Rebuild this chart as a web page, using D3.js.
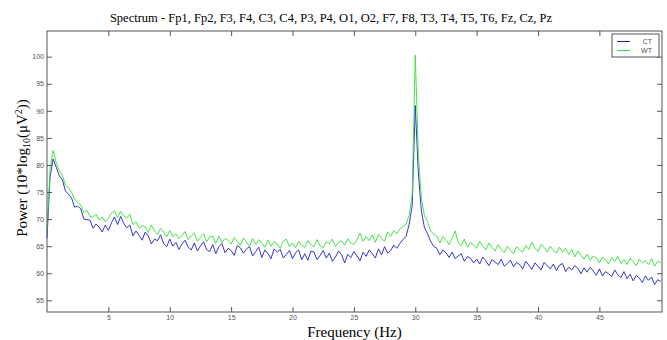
<!DOCTYPE html>
<html>
<head>
<meta charset="utf-8">
<script src="https://cdn.jsdelivr.net/npm/d3@7"></script>
<style>
  body { margin: 0; background: #fff; }
  svg { display: block; }
</style>
</head>
<body>
<div id="chart"></div>
<script>
// frequency grid of the spectrum (Hz)
const freqs = d3.range(0, 50.001, 0.25);

// CT power (dB), one row per Hz: f, f+.25, f+.5, f+.75
const ctPower = [
  66.5, 77.8, 81.1, 79.6,
  78.0, 77.3, 75.2, 74.6,
  73.9, 72.2, 72.4, 71.9,
  70.0, 69.9, 69.8, 68.3,
  69.1, 68.5, 67.6, 68.9,
  67.9, 69.3, 70.4, 69.0,
  70.5, 69.2, 68.4, 68.9,
  66.9, 67.8, 67.0, 66.1,
  67.6, 66.9, 65.4, 66.3,
  66.0, 67.1, 65.5, 64.9,
  66.3, 65.0, 65.7, 64.4,
  65.4, 66.1, 64.8, 64.3,
  65.6, 64.1, 65.0, 65.8,
  64.4, 64.0, 65.3, 63.6,
  64.9, 65.5, 63.8, 64.6,
  64.2, 63.3, 65.1, 64.7,
  63.7, 64.5, 64.9, 63.2,
  64.0, 64.8, 62.9, 64.3,
  63.6, 62.7, 64.5, 63.9,
  64.4, 62.8, 63.5, 64.2,
  62.7, 63.8, 64.3, 62.5,
  63.6, 62.4, 64.1, 63.9,
  62.5, 63.3, 64.2, 62.8,
  63.7, 62.2, 63.0, 64.1,
  63.4, 61.9, 63.5, 62.9,
  64.0, 63.2, 62.3, 63.9,
  63.1, 64.3, 63.6, 62.8,
  64.5, 63.4, 64.9, 63.7,
  64.2, 65.2, 64.6, 65.5,
  66.2, 66.8, 69.0, 72.5,
  91.0, 78.5, 71.5, 68.4,
  67.3, 65.9, 65.0, 64.6,
  63.4, 64.3, 63.8, 62.9,
  63.9, 62.7, 63.2, 63.6,
  62.2, 63.1, 62.8, 61.9,
  62.6, 61.7, 63.0, 62.3,
  61.4, 62.5, 62.1, 61.6,
  62.6, 61.3, 61.8, 62.4,
  61.2, 62.0, 61.6, 60.8,
  62.2, 61.5, 60.7, 61.9,
  61.3, 60.6, 62.0, 61.4,
  60.8, 61.7, 60.5, 61.5,
  61.8, 60.3, 61.1, 60.6,
  61.4, 60.9, 59.9, 61.0,
  60.2, 61.1, 60.4, 59.6,
  60.8, 59.5, 60.3, 59.9,
  59.4, 60.6, 59.7, 59.2,
  60.3, 59.0, 59.8, 58.6,
  59.6, 59.1, 58.3, 59.5,
  58.7, 59.3, 57.9, 58.8,
  58.5
];

// WT power (dB)
const wtPower = [
  67.5, 79.3, 82.7, 80.4,
  79.0, 78.1, 76.3, 75.8,
  74.9, 73.7, 73.0, 72.6,
  71.2, 71.6, 70.5, 70.3,
  70.9, 69.8, 70.4, 69.5,
  70.2, 71.1, 71.5, 70.3,
  71.4, 70.6, 70.2, 70.9,
  69.0, 69.5, 68.3, 68.8,
  68.6, 67.5, 68.9, 67.8,
  67.2, 68.3, 67.6, 66.7,
  67.9, 66.8, 67.3, 66.4,
  67.0, 67.7, 66.2, 66.9,
  67.4, 65.9, 66.6, 67.3,
  65.8, 66.7, 66.9, 65.5,
  66.8, 65.7, 66.4, 66.1,
  65.4, 66.6, 65.9, 65.1,
  66.5, 65.8, 64.9, 66.4,
  65.3, 66.2, 65.6, 64.8,
  66.1, 65.0, 65.8, 65.4,
  64.6, 65.9, 66.3, 64.9,
  65.6, 64.7, 65.9, 65.2,
  64.8, 66.0, 65.3, 64.9,
  66.2, 65.1, 64.7, 65.8,
  65.5, 66.3, 64.9, 65.7,
  66.0, 65.2, 66.4, 65.6,
  65.3, 66.2, 67.4, 65.9,
  66.8, 66.0, 67.1, 65.7,
  67.2, 66.4, 65.9, 67.6,
  66.8, 67.9, 67.3, 68.2,
  68.6, 69.1, 70.7, 74.5,
  100.3, 82.0, 73.8, 70.6,
  69.6, 67.8, 67.2, 66.9,
  65.6, 66.8, 66.2, 65.3,
  66.4, 67.8, 65.6, 65.1,
  66.3, 64.8, 65.7, 65.2,
  64.6, 65.9, 65.0, 64.3,
  65.6, 64.7, 64.1, 65.3,
  64.4, 63.8, 65.0, 64.2,
  63.6, 64.9, 64.3, 63.9,
  65.1, 64.4, 65.7, 64.6,
  64.0, 65.3, 64.8, 63.9,
  65.0, 64.2, 63.7, 64.8,
  63.9, 64.6, 63.5, 64.4,
  63.0, 64.1, 63.3, 62.6,
  63.5, 62.4, 63.2, 62.8,
  61.9, 63.0, 62.5, 61.7,
  62.9, 62.2, 63.1, 61.8,
  62.5, 61.6, 62.8, 62.1,
  61.4, 62.6, 61.9, 62.3,
  61.6, 62.7, 61.3, 62.2,
  62.0
];

const xTicks = [5, 10, 15, 20, 25, 30, 35, 40, 45];
const yTicks = [55, 60, 65, 70, 75, 80, 85, 90, 95, 100];
const seriesNames = ['CT', 'WT'];
const seriesColors = ['#1f1fc8', '#33e033'];

const width = 667;
const height = 340;
const margin = { top: 31, right: 5, bottom: 28, left: 47 };

const svg = d3.select('#chart').append('svg')
  .attr('width', width)
  .attr('height', height);

const x = d3.scaleLinear()
  .domain([0, 50.1])
  .range([margin.left, width - margin.right]);
const y = d3.scaleLinear()
  .domain([52.84, 104.74])
  .range([height - margin.bottom, margin.top]);

const tickFont = g => g
  .attr('font-family', '"Liberation Sans", Arial, sans-serif')
  .attr('font-size', 7)
  .call(g => g.selectAll('text').attr('fill', '#555'))
  .call(g => g.selectAll('line').attr('stroke', '#555'))
  .call(g => g.select('.domain').remove());

// series
const line = d3.line()
  .x((d, i) => x(freqs[i]))
  .y(d => y(d));

[ctPower, wtPower].forEach((vals, k) => {
  svg.append('path')
    .datum(vals)
    .attr('fill', 'none')
    .attr('stroke', seriesColors[k])
    .attr('stroke-width', 0.9)
    .attr('d', line);
});

// axes, ticks pointing inward on all sides
svg.append('g')
  .attr('transform', `translate(0,${height - margin.bottom})`)
  .call(d3.axisBottom(x).tickValues(xTicks).tickSize(-5).tickPadding(3))
  .call(tickFont);
svg.append('g')
  .attr('transform', `translate(0,${margin.top})`)
  .call(d3.axisTop(x).tickValues(xTicks).tickSize(-5).tickFormat(''))
  .call(tickFont);
svg.append('g')
  .attr('transform', `translate(${margin.left},0)`)
  .call(d3.axisLeft(y).tickValues(yTicks).tickSize(-5).tickPadding(3))
  .call(tickFont);
svg.append('g')
  .attr('transform', `translate(${width - margin.right},0)`)
  .call(d3.axisRight(y).tickValues(yTicks).tickSize(-5).tickFormat(''))
  .call(tickFont);

svg.append('rect')
  .attr('x', margin.left)
  .attr('y', margin.top)
  .attr('width', width - margin.right - margin.left)
  .attr('height', height - margin.bottom - margin.top)
  .attr('fill', 'none')
  .attr('stroke', '#555')
  .attr('stroke-width', 1);

// titles
svg.append('text')
  .attr('x', 331)
  .attr('y', 22)
  .attr('text-anchor', 'middle')
  .attr('font-family', '"Liberation Serif", "Times New Roman", serif')
  .attr('font-size', 12.5)
  .text('Spectrum - Fp1, Fp2, F3, F4, C3, C4, P3, P4, O1, O2, F7, F8, T3, T4, T5, T6, Fz, Cz, Pz');

svg.append('text')
  .attr('x', (margin.left + width - margin.right) / 2)
  .attr('y', 337)
  .attr('text-anchor', 'middle')
  .attr('font-family', '"Liberation Serif", "Times New Roman", serif')
  .attr('font-size', 15)
  .text('Frequency (Hz)');

const ylab = svg.append('text')
  .attr('transform', 'translate(27,168) rotate(-90)')
  .attr('text-anchor', 'middle')
  .attr('font-family', '"Liberation Serif", "Times New Roman", serif')
  .attr('font-size', 15);
ylab.append('tspan').text('Power (10*log');
ylab.append('tspan').attr('font-size', 10).attr('dy', 3).text('10');
ylab.append('tspan').attr('dy', -3).text('(\u03bcV');
ylab.append('tspan').attr('font-size', 10).attr('dy', -5).text('2');
ylab.append('tspan').attr('dy', 5).text('))');

// legend
const legend = svg.append('g').attr('transform', 'translate(612,34)');
legend.append('rect')
  .attr('width', 47)
  .attr('height', 23)
  .attr('fill', '#fff')
  .attr('stroke', '#555');
seriesNames.forEach((name, k) => {
  legend.append('line')
    .attr('x1', 5).attr('x2', 18)
    .attr('y1', 7.5 + k * 9).attr('y2', 7.5 + k * 9)
    .attr('stroke', seriesColors[k]);
  legend.append('text')
    .attr('x', 40)
    .attr('y', 10 + k * 9)
    .attr('text-anchor', 'end')
    .attr('font-family', '"Liberation Sans", Arial, sans-serif')
    .attr('font-size', 7)
    .attr('fill', '#555')
    .text(name);
});
</script>
</body>
</html>
